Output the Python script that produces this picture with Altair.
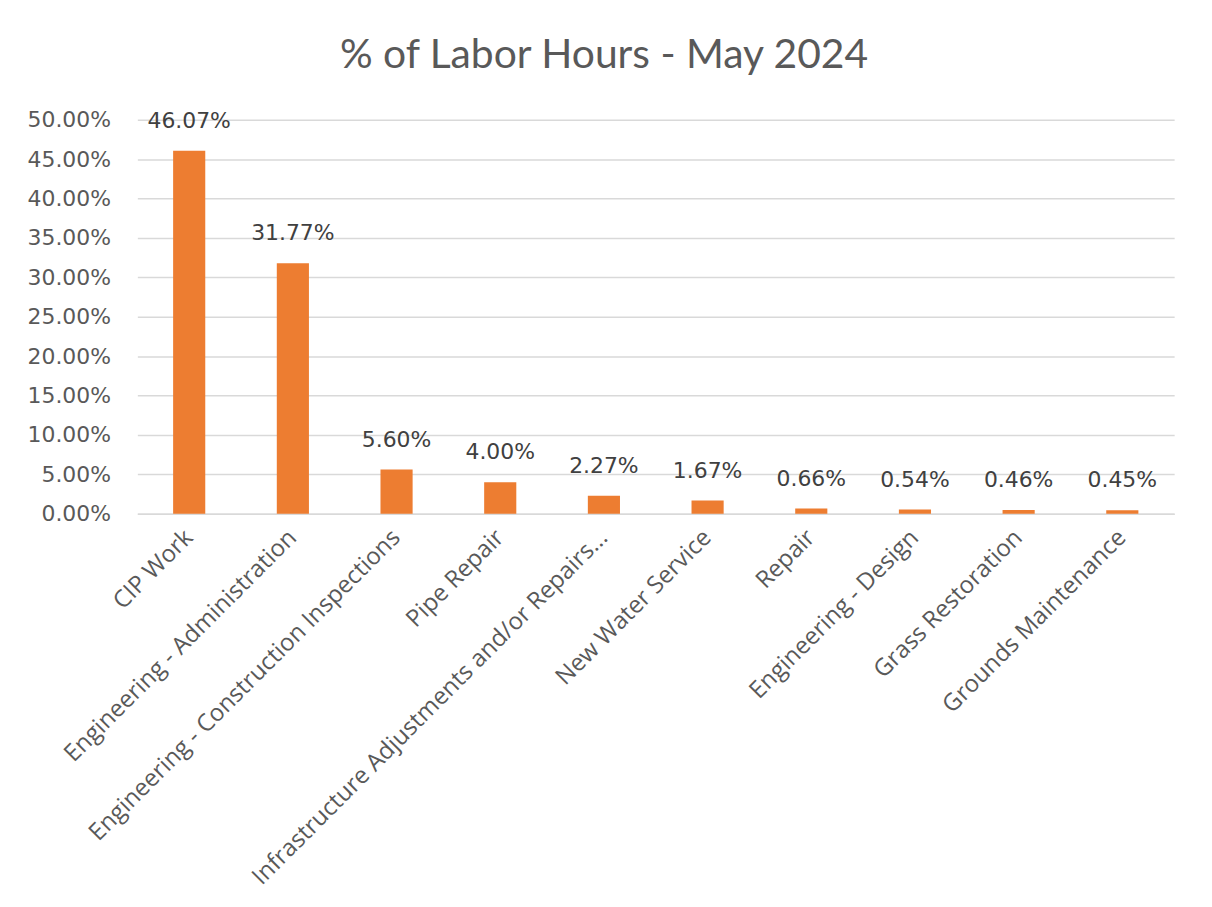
import altair as alt
import pandas as pd

categories = [
    "CIP Work",
    "Engineering - Administration",
    "Engineering - Construction Inspections",
    "Pipe Repair",
    "Infrastructure Adjustments and/or Repairs...",
    "New Water Service",
    "Repair",
    "Engineering  - Design",
    "Grass Restoration",
    "Grounds Maintenance",
]
values = [0.4607, 0.3177, 0.0560, 0.0400, 0.0227, 0.0167, 0.0066, 0.0054, 0.0046, 0.0045]
y_ticks = [0.0, 0.05, 0.10, 0.15, 0.20, 0.25, 0.30, 0.35, 0.40, 0.45, 0.50]

df = pd.DataFrame({"category": categories, "value": values})

XFONT = "Open Sans"
NFONT = "DejaVu Sans"
GREY = "#595959"

x = alt.X(
    "category:N",
    sort=categories,
    title=None,
    scale=alt.Scale(paddingInner=0.69, paddingOuter=0.345),
    axis=alt.Axis(
        labelAngle=-45,
        labelAlign="right",
        labelBaseline="middle",
        labelFontSize=24,
        labelColor=GREY,
        labelFont=XFONT,
        labelPadding=20,
        ticks=False,
        grid=False,
        domainColor="#D9D9D9",
        domainWidth=1.5,
        labelLimit=800,
    ),
)
y = alt.Y(
    "value:Q",
    title=None,
    scale=alt.Scale(domain=[0, 0.5], nice=False),
    axis=alt.Axis(
        values=y_ticks,
        format=".2%",
        labelFontSize=22,
        labelColor=GREY,
        labelFont=NFONT,
        labelPadding=27,
        ticks=False,
        domain=False,
        gridColor="#D9D9D9",
        gridWidth=1.5,
    ),
)

bars = alt.Chart(df).mark_bar(color="#ED7D31").encode(x=x, y=y)
labels = alt.Chart(df).mark_text(
    baseline="middle", dy=-30, fontSize=22, color="#404040", font=NFONT
).encode(x=x, y=y, text=alt.Text("value:Q", format=".2%"))

chart = (
    alt.layer(bars, labels)
    .properties(
        width=1042,
        height=396,
        view=alt.ViewBackground(stroke=None, strokeWidth=0),
        autosize=alt.AutoSizeParams(type="none"),
        padding={"left": 130, "top": 110, "right": 30, "bottom": 384},
        title=alt.TitleParams(
            "% of Labor Hours - May 2024",
            fontSize=41,
            font="Lato",
            fontWeight="normal",
            color=GREY,
            anchor="middle",
            dx=-52,
            offset=32,
        ),
    )
    .configure_view(stroke=None, strokeWidth=0)
    .configure(background="white")
)

chart.save("out.html", embed_options={"renderer": "svg", "actions": False})
